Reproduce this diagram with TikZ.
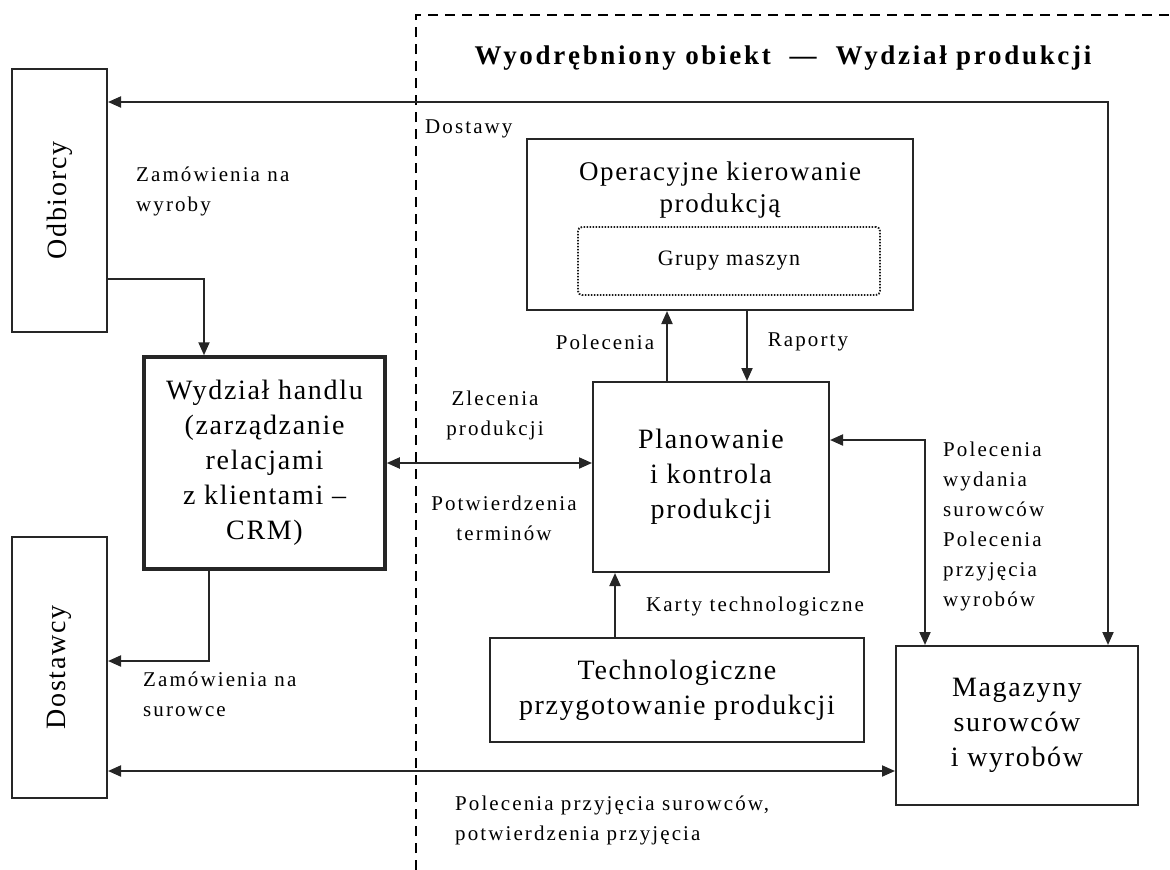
\documentclass[tikz,border=0pt]{standalone}
\usepackage{fontspec}
\setmainfont{Liberation Serif}
\newfontfamily\lblfam{Liberation Serif}[LetterSpace=10]
\newfontfamily\boxfam{Liberation Serif}[LetterSpace=6]
\newfontfamily\ttlfam{Liberation Serif}[LetterSpace=10]
\usetikzlibrary{arrows.meta}
\begin{document}
\begin{tikzpicture}[x=1pt,y=-1pt,
  box/.style={draw=black!85, line width=2pt, inner sep=0pt, align=center,
    font=\boxfam\fontsize{28}{35}\selectfont},
  boxtext/.style={inner sep=0pt, align=center, font=\boxfam\fontsize{27}{32}\selectfont},
  lbl/.style={inner sep=0pt, font=\lblfam\fontsize{21}{30}\selectfont},
  tip/.tip={Triangle[length=13pt,width=11pt]},
  conn/.style={draw=black!85, line width=2pt, -tip},
  conn2/.style={draw=black!85, line width=2pt, tip-tip},
  frame/.style={draw=black, line width=2pt, dash pattern=on 10pt off 7pt},
]
\useasboundingbox (0,0) rectangle (1170,870);

% boundary of the production department
\coordinate (fb) at (416,870);
\coordinate (fc) at (416,15);
\coordinate (fr) at (1170,15);
\draw[frame] (fb) -- (fc) -- (fr);
\node[inner sep=0pt, font=\ttlfam\fontsize{27}{30}\selectfont\bfseries] (ttl) at (783,58)
  {Wyodrębniony obiekt \ — \ Wydział produkcji};

% outside partners
\node[box, minimum width=95pt, minimum height=263pt] (odb) at (59.5,200.5)
  {\rotatebox{90}{Odbiorcy}};
\node[box, minimum width=95pt, minimum height=261pt] (dost) at (59.5,667.5)
  {\rotatebox{90}{Dostawcy}};

% sales department
\node[box, line width=3.5pt, minimum width=241pt, minimum height=212pt]
  (handel) at (264.5,463)
  {Wydział handlu\\(zarządzanie\\relacjami\\z klientami –\\CRM)};

% production department units
\node[box, minimum width=386pt, minimum height=171pt] (oper) at (720,224.5) {};
\node[boxtext] (operT) at (720,190)
  {Operacyjne kierowanie\\produkcją};
\node[draw=black!90, line width=1.8pt, dash pattern=on 1.5pt off 1.5pt, rounded corners=4pt, inner sep=0pt,
  minimum width=302pt, minimum height=68pt, font=\boxfam\fontsize{22}{26}\selectfont]
  (grupy) at (729,261) {Grupy maszyn};

\node[box, minimum width=236pt, minimum height=190pt]
  (plan) at (711,477) {Planowanie\\i kontrola\\produkcji};
\node[box, minimum width=374pt, minimum height=104pt]
  (tech) at (677,690) {Technologiczne\\przygotowanie produkcji};
\node[box, minimum width=242pt, minimum height=159pt] (mag) at (1017,725.5)
  {Magazyny\\surowców\\i wyrobów};

% routing points
\coordinate (tr) at (1108,102);
\coordinate (c1) at (204,279);
\coordinate (c2) at (209,661);
\coordinate (c3) at (500,771);
\coordinate (xpol) at (667,346);
\coordinate (xrap) at (747,346);
\coordinate (xkar) at (615,606);
\coordinate (c9) at (925,440);

% connectors
\draw[conn2] (odb.east |- tr) -- (tr) -- (tr |- mag.north);
\draw[conn] (odb.east |- c1) -- (c1) -- (c1 |- handel.north);
\draw[conn] (c2 |- handel.south) -- (c2) -- (dost.east |- c2);
\draw[conn2] (dost.east |- c3) -- (mag.west |- c3);
\draw[conn2] (handel.east) -- (handel.east -| plan.west);
\draw[conn] (xpol |- plan.north) -- (xpol |- oper.south);
\draw[conn] (xrap |- oper.south) -- (xrap |- plan.north);
\draw[conn] (xkar |- tech.north) -- (xkar |- plan.south);
\draw[conn2] (plan.east |- c9) -- (c9) -- (c9 |- mag.north);

% flow labels
\node[lbl, anchor=west] (lDost) at (425,129) {Dostawy};
\node[lbl, anchor=west, align=left] (lZw) at (136,191) {Zamówienia na\\wyroby};
\node[lbl, anchor=west, align=left] (lZs) at (143,694) {Zamówienia na\\surowce};
\node[lbl, align=center] (lZl) at (495,415) {Zlecenia\\produkcji};
\node[lbl, align=center] (lPt) at (504,518) {Potwierdzenia\\terminów};
\node[lbl] (lPol) at (605,342) {Polecenia};
\node[lbl] (lRap) at (808,342) {Raporty};
\node[lbl] (lKar) at (755,606) {Karty technologiczne};
\node[lbl, anchor=west, align=left] (lMag) at (943,526)
  {Polecenia\\wydania\\surowców\\Polecenia\\przyjęcia\\wyrobów};
\node[lbl, anchor=west, align=left] (lPs) at (455,820)
  {Polecenia przyjęcia surowców,\\potwierdzenia przyjęcia};
\end{tikzpicture}
\end{document}
